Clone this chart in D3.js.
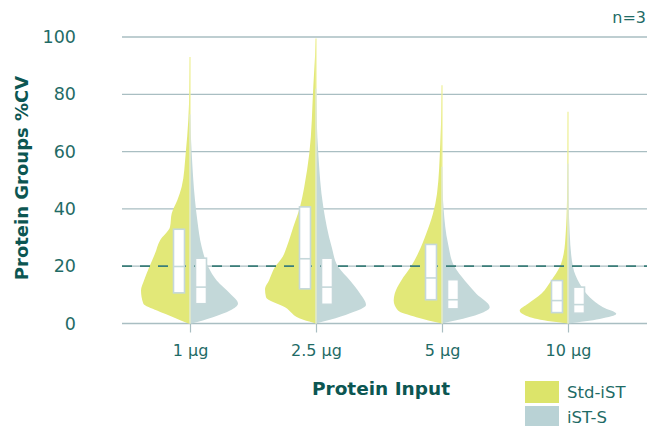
<!DOCTYPE html>
<html><head><meta charset="utf-8">
<script src="https://cdn.jsdelivr.net/npm/d3@7"></script>
<style>
html,body{margin:0;padding:0;background:#fff;}
svg{display:block;font-family:"DejaVu Sans",sans-serif;}
</style></head>
<body><svg id="chart" width="657" height="426"></svg>
<script>
const categories = ["1 µg", "2.5 µg", "5 µg", "10 µg"];
const seriesNames = ["Std-iST", "iST-S"];
const yTicks = [0, 20, 40, 60, 80, 100];
const threshold = 20;

// relative density profiles: [CV %, density]
const stdDensity = [
  [[0,1.7],[2.2,16.7],[4.5,33],[7,46.7],[11.5,49],[15,46],[19.7,40.7],[24.4,35],[29,30],[33.7,20],[38.4,18.3],[43,12.7],[47.7,8.3],[59.4,4.3],[71,1.7],[93,0]],
  [[0,0],[1.3,12.7],[5.7,31],[9.2,50],[12,51],[15,47],[19.7,41],[23.3,33.3],[26.7,29.3],[33.7,22.7],[40.7,16],[47.7,11.7],[59.3,6.7],[82.6,2.7],[99.5,0]],
  [[0,0],[2.2,25.7],[4.5,44],[8,48.3],[10.4,47.3],[15,40.7],[19.7,31.3],[24.4,24],[31.4,15.7],[38.4,9],[45.3,5],[62.8,1.7],[83.2,0]],
  [[0,0],[0.5,11.7],[2.2,38],[4.5,48.3],[6.9,40],[10.4,26.7],[15,16.7],[19.7,8.3],[24.4,4.3],[31.4,2.3],[43,1],[73.9,0]]
];
const istDensity = [
  [[0,1.7],[2.2,23],[4.5,40],[7,48],[10.5,40],[15,26.7],[19.7,18.3],[26.7,11.7],[36,7.3],[43,5],[59.4,1.7],[73,0]],
  [[0,0],[1.3,14],[3.6,34],[6.5,50],[10.5,44],[15,34],[19.7,22.3],[26.7,15.7],[40.7,7.3],[59.3,2.3],[82,0]],
  [[0,0],[1.1,14.3],[3.4,37.7],[5.7,47.7],[10.4,34.3],[15,22.7],[19.7,12.7],[27.9,6],[39.5,1.7],[54.7,0]],
  [[0,0],[1.6,31.7],[3.4,48.3],[5.7,35],[9.2,21.7],[13.9,11.7],[19.7,5],[31.4,1.7],[55.8,0]]
];
// box stats (Q1, median, Q3)
const stdQ1 = [10.7, 12.1, 8.3, 3.8];
const stdMedian = [19.9, 22.6, 15.9, 8.0];
const stdQ3 = [32.9, 40.7, 27.6, 15.0];
const istQ1 = [6.9, 6.7, 5.1, 3.6];
const istMedian = [12.7, 12.7, 8.3, 6.6];
const istQ3 = [22.8, 22.8, 15.3, 12.7];

const colors = {"Std-iST": "#e2e878", "iST-S": "#c3d8d9"};
const legendColors = {"Std-iST": "#dce46a", "iST-S": "#b9d2d5"};
const textColor = "#1f6b66";
const titleColor = "#0c5652";
const gridColor = "#a9bec2";

const svg = d3.select("#chart");
const gridLeft = 122, gridRight = 647;
const x = d3.scalePoint().domain(categories).range([190, 568]);
const y = d3.scaleLinear().domain([0, 100]).range([323.5, 37]);
const maxD = d3.max([...stdDensity, ...istDensity].flat(), d => d[1]);
const w = d3.scaleLinear().domain([0, maxD]).range([0, 51]);

// gridlines
svg.append("g").selectAll("line").data(yTicks).join("line")
  .attr("x1", gridLeft).attr("x2", gridRight)
  .attr("y1", d => y(d)).attr("y2", d => y(d))
  .attr("stroke", gridColor).attr("stroke-width", 1.3);

// y labels
svg.append("g").selectAll("text").data(yTicks).join("text")
  .attr("x", 76).attr("y", d => y(d)).attr("dy", "0.35em")
  .attr("text-anchor", "end").attr("fill", textColor)
  .attr("font-size", 17.5).text(d => d);

// x axis ticks
const xAxis = d3.axisBottom(x).tickSize(9).tickPadding(12);
const gx = svg.append("g").attr("transform", `translate(0,${y(0)})`).call(xAxis);
gx.select(".domain").remove();
gx.selectAll(".tick line").attr("stroke", gridColor).attr("stroke-width", 1.2);
gx.selectAll(".tick text").attr("fill", textColor).attr("font-size", 16)
  .attr("font-family", "DejaVu Sans, sans-serif");

// violins
categories.forEach((c, i) => {
  const cx = x(c);
  const left = d3.area().curve(d3.curveMonotoneY)
    .y(d => y(d[0])).x0(cx).x1(d => cx - w(d[1]));
  const right = d3.area().curve(d3.curveMonotoneY)
    .y(d => y(d[0])).x0(cx).x1(d => cx + w(d[1]));
  svg.append("path").datum(stdDensity[i]).attr("d", left).attr("fill", colors["Std-iST"]);
  svg.append("path").datum(istDensity[i]).attr("d", right).attr("fill", colors["iST-S"]);
  svg.append("line").attr("x1", cx).attr("x2", cx)
    .attr("y1", y(stdDensity[i][stdDensity[i].length-1][0])).attr("y2", y(0))
    .attr("stroke", "#eef09a").attr("stroke-width", 1.2);
  svg.append("line").attr("x1", cx).attr("x2", cx)
    .attr("y1", y(istDensity[i][istDensity[i].length-1][0])).attr("y2", y(0))
    .attr("stroke", "#dbe6e6").attr("stroke-width", 1);
});

// dashed threshold
svg.append("line").attr("x1", gridLeft).attr("x2", gridRight)
  .attr("y1", y(threshold)).attr("y2", y(threshold))
  .attr("stroke", "#3b7e79").attr("stroke-width", 1.8)
  .attr("stroke-dasharray", "10,8");

// boxes
const boxW = 11, off = 11;
function drawBox(cx, q1, med, q3) {
  svg.append("rect").attr("x", cx - boxW/2).attr("width", boxW)
    .attr("y", y(q3)).attr("height", y(q1) - y(q3))
    .attr("fill", "#fff").attr("stroke", "#c5d8da").attr("stroke-width", 1.6);
  svg.append("line").attr("x1", cx - boxW/2).attr("x2", cx + boxW/2)
    .attr("y1", y(med)).attr("y2", y(med))
    .attr("stroke", "#c5d8da").attr("stroke-width", 1.6);
}
categories.forEach((c, i) => {
  drawBox(x(c) - off, stdQ1[i], stdMedian[i], stdQ3[i]);
  drawBox(x(c) + off, istQ1[i], istMedian[i], istQ3[i]);
});

// axis titles
svg.append("text").attr("transform", "translate(28,178) rotate(-90)")
  .attr("text-anchor", "middle").attr("fill", titleColor)
  .attr("font-weight", "bold").attr("font-size", 18).text("Protein Groups %CV");
svg.append("text").attr("x", 381).attr("y", 395)
  .attr("text-anchor", "middle").attr("fill", titleColor)
  .attr("font-weight", "bold").attr("font-size", 18.5).text("Protein Input");

// n=3
svg.append("text").attr("x", 646).attr("y", 23).attr("text-anchor", "end")
  .attr("fill", textColor).attr("font-size", 16).text("n=3");

// legend
const lg = svg.append("g").selectAll("g").data(seriesNames).join("g")
  .attr("transform", (d, k) => `translate(525,${381 + k * 25})`);
lg.append("rect").attr("width", 34).attr("height", 22).attr("fill", d => legendColors[d]);
lg.append("text").attr("x", 42).attr("y", 11).attr("dy", "0.35em")
  .attr("fill", textColor).attr("font-size", 16.5).text(d => d);
</script></body></html>
